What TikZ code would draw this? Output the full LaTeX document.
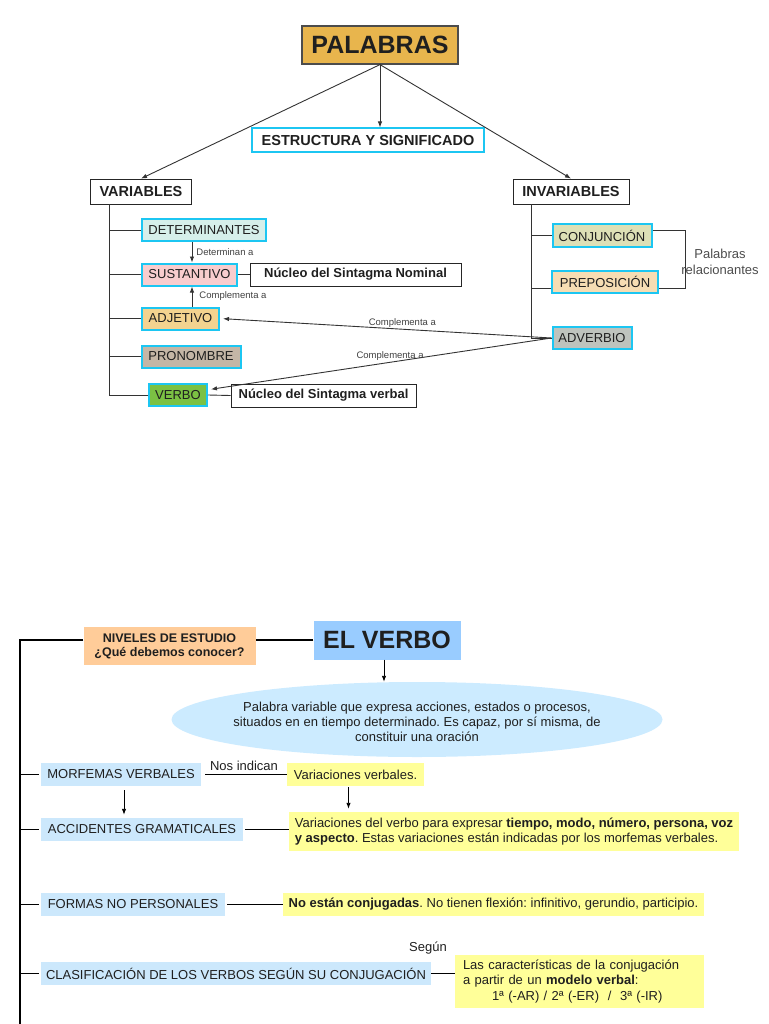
\documentclass[tikz,border=0pt]{standalone}
\usepackage{fontspec}
\setmainfont{Liberation Sans}
\usetikzlibrary{arrows.meta,shapes.geometric,positioning,calc}
\frenchspacing

\definecolor{cyanline}{RGB}{28,198,242}
\definecolor{palabrasfill}{RGB}{232,181,77}
\definecolor{detfill}{RGB}{214,239,234}
\definecolor{susfill}{RGB}{248,205,206}
\definecolor{adjfill}{RGB}{243,211,143}
\definecolor{pronfill}{RGB}{196,182,166}
\definecolor{verbfill}{RGB}{123,193,67}
\definecolor{conjfill}{RGB}{221,224,182}
\definecolor{prepfill}{RGB}{246,221,179}
\definecolor{advfill}{RGB}{190,195,189}
\definecolor{verbohead}{RGB}{153,204,255}
\definecolor{nivelesfill}{RGB}{255,204,153}
\definecolor{defblue}{RGB}{204,235,255}
\definecolor{topicblue}{RGB}{204,232,252}
\definecolor{noteyellow}{RGB}{255,255,153}

\tikzset{
	txt/.style={font=\fontsize{13}{15.3}\selectfont,text=black!88,inner sep=0pt},
	wordbox/.style={txt,draw=cyanline,line width=2pt,minimum height=22pt},
	headbox/.style={txt,font=\fontsize{14.5}{17}\selectfont\bfseries,draw=black!85,line width=0.8pt,minimum height=25pt},
	nucbox/.style={txt,font=\fontsize{13}{15}\selectfont\bfseries,draw=black!85,line width=0.8pt,minimum height=23pt},
	topicbox/.style={txt,fill=topicblue,minimum height=23pt},
	notebox/.style={txt,fill=noteyellow,minimum height=23pt},
	smalllabel/.style={font=\fontsize{9.5}{11}\selectfont,text=black!75,inner sep=1pt},
	link/.style={draw=black!80,line width=0.9pt},
	arr/.style={link,-{Latex[length=6pt,width=4.5pt]}},
}

\begin{document}
\begin{tikzpicture}[x=1pt,y=-1pt]

	\useasboundingbox (0,0) rectangle (768,1024);

	\node[headbox,font=\fontsize{25}{30}\selectfont\bfseries,fill=palabrasfill,draw=black!70,line width=1.2pt,minimum width=156pt,minimum height=38pt](palabras) at (380,45) {PALABRAS};
	\node[headbox,draw=cyanline,line width=2pt,minimum width=232pt,minimum height=24pt](estructura) at (368,140.5) {ESTRUCTURA Y SIGNIFICADO};
	\node[headbox,minimum width=101pt](variables) at (141,191.5) {VARIABLES};
	\node[headbox,minimum width=116pt](invariables) at (571,191.5) {INVARIABLES};

	\node[wordbox,fill=detfill,minimum width=124pt](determinantes) at (204,230) {DETERMINANTES};
	\node[wordbox,fill=susfill,minimum width=95pt](sustantivo) at (189.5,274.5) {SUSTANTIVO};
	\node[wordbox,fill=adjfill,minimum width=77pt](adjetivo) at (180.5,318.5) {ADJETIVO};
	\node[wordbox,fill=pronfill,minimum width=99pt](pronombre) at (191,356.5) {PRONOMBRE};
	\node[wordbox,fill=verbfill,minimum width=58pt](verbo) at (178,395) {VERBO};
	\node[nucbox,minimum width=211pt](nucnominal) at (355.5,274.5) {Núcleo del Sintagma Nominal};
	\node[nucbox,minimum width=185pt](nucverbal) at (323.5,395.5) {Núcleo del Sintagma verbal};

	\node[wordbox,fill=conjfill,minimum width=99pt](conjuncion) at (602,235.5) {CONJUNCIÓN};
	\node[wordbox,fill=prepfill,minimum width=106pt](preposicion) at (605,282) {PREPOSICIÓN};
	\node[wordbox,fill=advfill,minimum width=79pt](adverbio) at (592,338) {ADVERBIO};
	\node[txt,text=black!70,align=center](relacionantes) at (720,262) {Palabras\\relacionantes};

	\draw[arr] (palabras.south) -- (palabras.south |- estructura.north);
	\draw[arr] (palabras.south) -- (variables.north);
	\draw[arr] (palabras.south) -- (invariables.north);

		\coordinate (vtrunk) at ($(variables.south west)+(19,0)$);
	\draw[link] (vtrunk) |- (verbo.west);
	\foreach \w in {determinantes,sustantivo,adjetivo,pronombre}
		\draw[link] (vtrunk |- \w.west) -- (\w.west);

		\coordinate (detarrow) at ($(determinantes.south)+(-12,0)$);
	\draw[arr] (detarrow) -- (detarrow |- sustantivo.north) node[smalllabel,midway,right=3pt]{Determinan a};
	\draw[arr] (detarrow |- adjetivo.north) -- (detarrow |- sustantivo.south) node[smalllabel,midway,right=6pt]{Complementa a};

	\draw[link] (sustantivo.east) -- (nucnominal.west);
	\draw[link] (verbo.east) -- (nucverbal.west);

		\coordinate (itrunk) at ($(invariables.south west)+(19,0)$);
	\draw[link] (itrunk) |- (adverbio.west);
	\draw[link] (itrunk |- conjuncion.west) -- (conjuncion.west);
	\draw[link] ($(itrunk |- preposicion.west)+(0,6)$) -- ($(preposicion.west)+(0,6)$);
	\draw[link] ($(conjuncion.east)+(0,-5)$) -| ($(preposicion.east)+(26,6)$) -- ($(preposicion.east)+(0,6)$);

	\draw[arr,shorten >=3pt] (adverbio.west) -- (adjetivo.east) node[smalllabel,pos=0.45,above]{Complementa a};
	\draw[arr,shorten >=3pt] (adverbio.west) -- (verbo.10) node[smalllabel,pos=0.47,above]{Complementa a};

	\node[txt,font=\fontsize{25}{30}\selectfont\bfseries,fill=verbohead,minimum width=147pt,minimum height=39pt](elverbo) at (387,640) {EL VERBO};
	\node[txt,font=\fontsize{12.5}{14}\selectfont\bfseries,fill=nivelesfill,align=center,minimum width=172pt,minimum height=38pt](niveles) at (169.5,646) {NIVELES DE ESTUDIO\\¿Qué debemos conocer?};
	\node[ellipse,fill=defblue,inner sep=0pt,minimum width=491pt,minimum height=75pt](definicion) at (417,719.5) {};
	\node[txt,align=center](deftext) at ($(definicion.center)+(0,2.5)$) {Palabra variable que expresa acciones, estados o procesos,\\situados en en tiempo determinado. Es capaz, por sí misma, de\\constituir una oración};

	\node[topicbox,minimum width=160pt](morfemas) at (121,774.5) {MORFEMAS VERBALES};
	\node[topicbox,minimum width=202pt](accidentes) at (142,829.5) {ACCIDENTES GRAMATICALES};
	\node[topicbox,minimum width=184pt](formas) at (133,904.5) {FORMAS NO PERSONALES};
	\node[topicbox,minimum width=390pt](clasificacion) at (236,973.5) {CLASIFICACIÓN DE LOS VERBOS SEGÚN SU CONJUGACIÓN};

	\node[notebox,minimum width=137pt](variaciones) at (355.5,774.5) {Variaciones verbales.};
	\node[notebox,minimum width=450pt,minimum height=39pt,align=left](accvar) at (514,831.5) {Variaciones del verbo para expresar \textbf{tiempo, modo, número, persona, voz}\\\textbf{y aspecto}. Estas variaciones están indicadas por los morfemas verbales.};
	\node[notebox,minimum width=421pt](formasvar) at (493.5,904.5) {\textbf{No están conjugadas}. No tienen flexión: infinitivo, gerundio, participio.};
	\node[notebox,text width=233pt,inner xsep=8pt,minimum height=53pt,align=left](clasvar) at (579.5,981.5) {Las características de la conjugación\\a partir de un \textbf{modelo verbal}:\\\hspace*{29pt}1ª (-AR) / 2ª (-ER) \ / \ 3ª (-IR)};
	\node[txt](segun) at (428,948) {Según};

		\coordinate (trunktop) at (20,640);
		\coordinate (trunkend) at (20,1030);
	\draw[link,draw=black,line width=1.6pt] (elverbo.west) -- (niveles.east |- elverbo.west);
	\draw[link,draw=black,line width=1.6pt] (niveles.west |- elverbo.west) -- (trunktop) -- (trunkend);
	\foreach \t in {morfemas,accidentes,formas,clasificacion}
		\draw[link,draw=black,line width=1.2pt,shorten >=2pt] (trunktop |- \t.west) -- (\t.west);

		\coordinate (verboarrow) at ($(elverbo.south)+(-3,0)$);
	\draw[arr,draw=black] (verboarrow) -- (verboarrow |- definicion.north);
		\coordinate (morfarrow) at ($(morfemas.south)+(3,4)$);
	\draw[arr,draw=black,shorten >=3pt] (morfarrow) -- (morfarrow |- accidentes.north);
		\coordinate (vararrow) at ($(variaciones.south)+(-7,1)$);
	\draw[arr,draw=black,shorten >=3pt] (vararrow) -- (vararrow |- accvar.north);

	\draw[link,draw=black,line width=1.2pt,shorten <=4pt] (morfemas.east) -- (variaciones.west) node[txt,midway,above=3pt]{Nos indican};
	\draw[link,draw=black,line width=1.2pt,shorten <=2pt] (accidentes.east) -- (accidentes.east -| accvar.west);
	\draw[link,draw=black,line width=1.2pt,shorten <=2pt] (formas.east) -- (formasvar.west);
	\draw[link,draw=black,line width=1.2pt] (clasificacion.east) -- (clasificacion.east -| clasvar.west);

\end{tikzpicture}
\end{document}
